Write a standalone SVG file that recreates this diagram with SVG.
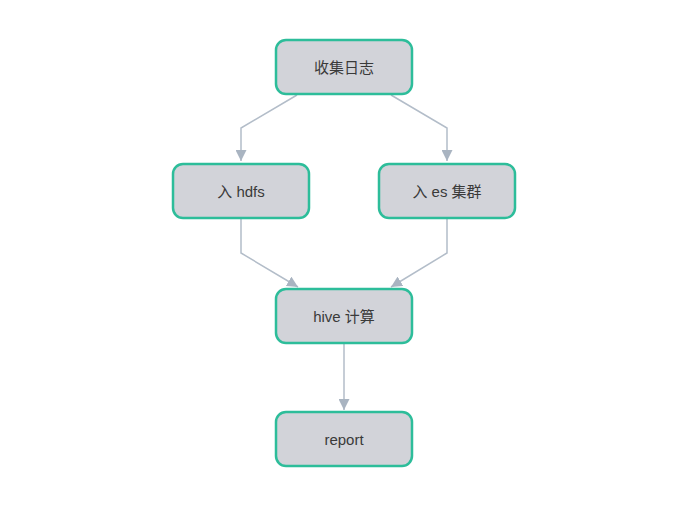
<svg xmlns="http://www.w3.org/2000/svg" width="700" height="525" viewBox="0 0 700 525">
<defs>
<style>
.node rect{fill:#d2d3d9;stroke:#2dbd9a;stroke-width:2.5}
.node text{font-family:"Liberation Sans","Noto Sans CJK SC",sans-serif;font-size:15px;fill:#3a3a3a;text-anchor:middle;dominant-baseline:central}
.edge{fill:none;stroke:#b3bdc9;stroke-width:1.5}
</style>
<marker id="arr" viewBox="0 0 10 10" refX="10" refY="5" markerWidth="11" markerHeight="11" markerUnits="userSpaceOnUse" orient="auto">
<path d="M0,0 L10,5 L0,10 z" fill="#a9b4c1"/>
</marker>
</defs>
<rect width="700" height="525" fill="#fff"/>
<g id="connectors">
<path class="edge" d="M297,95 L241,128 L241,161" marker-end="url(#arr)"/>
<path class="edge" d="M391,95 L447,128 L447,161" marker-end="url(#arr)"/>
<path class="edge" d="M241,219 L241,253 L298,287" marker-end="url(#arr)"/>
<path class="edge" d="M447,219 L447,253 L391,287" marker-end="url(#arr)"/>
<path class="edge" d="M344,344 L344,410" marker-end="url(#arr)"/>
</g>
<g id="n1" class="node"><rect x="276" y="40" width="136" height="54" rx="10"/><text x="344" y="67">收集日志</text></g>
<g id="n2" class="node"><rect x="173" y="164" width="136" height="54" rx="10"/><text x="241" y="191">入 hdfs</text></g>
<g id="n3" class="node"><rect x="379" y="164" width="136" height="54" rx="10"/><text x="447" y="191">入 es 集群</text></g>
<g id="n4" class="node"><rect x="276" y="289" width="136" height="54" rx="10"/><text x="344" y="316">hive 计算</text></g>
<g id="n5" class="node"><rect x="276" y="412" width="136" height="54" rx="10"/><text x="344" y="439">report</text></g>
</svg>
